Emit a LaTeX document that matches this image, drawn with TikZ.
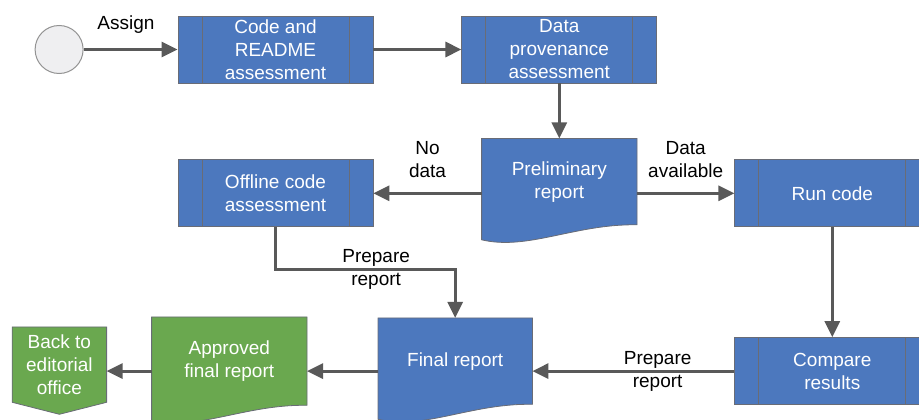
\documentclass[tikz,border=0pt]{standalone}
\usepackage{fontspec}
\setmainfont{Liberation Sans}
\usetikzlibrary{positioning}
\usetikzlibrary{backgrounds}
\usetikzlibrary{calc}
\usetikzlibrary{arrows.meta}

\definecolor{boxblue}{RGB}{76,120,190}
\definecolor{boxgreen}{RGB}{106,168,79}
\definecolor{edgegray}{RGB}{105,108,118}
\definecolor{flowgray}{RGB}{89,89,89}
\definecolor{startgray}{RGB}{239,239,241}

\tikzset{
	procbox/.style = {rectangle, fill = boxblue, draw = edgegray, line width = 0.8pt,
			minimum width = 195pt, minimum height = 67pt, inner sep = 0pt,
			text = white, align = center, font = \fontsize{19}{23}\selectfont,
			path picture = {
					\draw[edgegray, line width = 1pt] ([xshift = 24pt]path picture bounding box.north west) -- ([xshift = 24pt]path picture bounding box.south west);
					\draw[edgegray, line width = 1pt] ([xshift = -24pt]path picture bounding box.north east) -- ([xshift = -24pt]path picture bounding box.south east);
				}},
	docbox/.style = {rectangle, minimum width = 155pt, minimum height = 86pt, inner sep = 0pt,
			text = white, align = center, font = \fontsize{19}{23}\selectfont},
	docshape/.style = {insert path = {(#1.north west) -- (#1.north east) -- (#1.south east)
					.. controls ($(#1.south east)+(-62pt,1pt)$) and ($(#1.south west)+(46pt,-26pt)$) .. ($(#1.south west)+(0pt,-15pt)$) -- cycle}},
	pageshape/.style = {insert path = {(#1.north west) -- (#1.north east) -- (#1.south east)
					-- ($(#1.south)+(0pt,-12pt)$) -- (#1.south west) -- cycle}},
	startnode/.style = {circle, fill = startgray, draw = gray!85, line width = 1pt, minimum size = 48pt, inner sep = 0pt},
	flow/.style = {flowgray, line width = 3pt, -{Triangle[length = 16pt, width = 15pt]}},
	flowlabel/.style = {inner sep = 0pt, align = center, text = black, font = \fontsize{19}{23}\selectfont}
}

\begin{document}
\begin{tikzpicture}
	\useasboundingbox (0pt,0pt) rectangle (919pt,-420pt);

	\node[procbox] at (275.5pt,-49.5pt) (code) {Code and\\README\\assessment};
	\node[startnode, left = 94pt of code] (start) {};
	\node[procbox, right = 88pt of code] (data) {Data\\provenance\\assessment};
	\node[docbox, below = 55pt of data] (prelim) {Preliminary\\report};
	\node[procbox, below = 76pt of code] (offline) {Offline code\\assessment};
	\node[procbox, right = 361pt of offline] (runcode) {Run code};
	\node[procbox, below = 110pt of runcode] (compare) {Compare\\results};
	\node[docbox, minimum width = 154pt, left = 202pt of compare, yshift = 10pt] (final) {Final report};
	\node[docbox, minimum height = 88pt, left = 71pt of final] (approved) {Approved\\final report};
	\node[docbox, minimum width = 94pt, minimum height = 75pt, left = 45pt of approved, yshift = -3.5pt] (back) {Back to\\editorial\\office};

	\begin{scope}[on background layer]
		\filldraw[fill = boxblue, draw = edgegray, line width = 0.8pt, docshape = prelim];
		\filldraw[fill = boxblue, draw = edgegray, line width = 0.8pt, docshape = final];
		\filldraw[fill = boxgreen, draw = edgegray, line width = 0.8pt, docshape = approved];
		\filldraw[fill = boxgreen, draw = edgegray, line width = 0.8pt, pageshape = back];
	\end{scope}

	\draw[flow] (start) -- node[flowlabel, above = 15pt, pos = 0.45] {Assign} (code);
	\draw[flow] (code) -- (data);
	\draw[flow] (data) -- (prelim);
	\draw[flow] (offline.east -| prelim.west) -- node[flowlabel, above = 14pt] {No\\data} (offline.east);
	\draw[flow] (runcode.west -| prelim.east) -- node[flowlabel, above = 14pt] {Data\\available} (runcode.west);
	\draw[flow] (offline.south) -- ++(0pt,-42.5pt) -| node[flowlabel, pos = 0.28] {Prepare\\report} (final.north);
	\draw[flow] (runcode) -- (compare);
	\draw[flow] (compare.west) -- node[flowlabel, pos = 0.38] {Prepare\\report} (final.east |- compare.west);
	\draw[flow] (final.west |- compare.west) -- (approved.east |- compare.west);
	\draw[flow] (approved.west |- compare.west) -- (back.east |- compare.west);
\end{tikzpicture}
\end{document}
